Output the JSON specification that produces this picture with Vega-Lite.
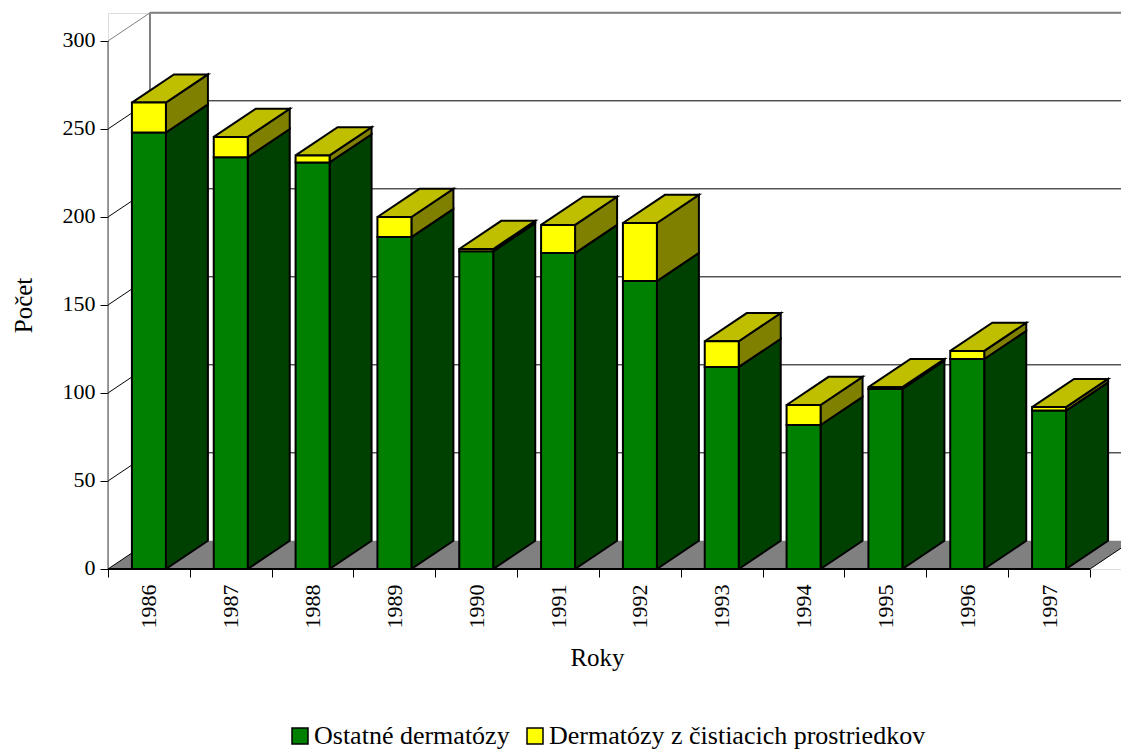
{
"$schema":"https://vega.github.io/schema/vega-lite/v6.json",
"width":1013,"height":556,"autosize":"none",
"padding":{"left":108,"top":13,"right":0,"bottom":180},
"background":"white",
"datasets":{
"bars":[
{"year":1986,"series":"Ostatné dermatózy","value":248},{"year":1986,"series":"Dermatózy z čistiacich prostriedkov","value":17},
{"year":1987,"series":"Ostatné dermatózy","value":234},{"year":1987,"series":"Dermatózy z čistiacich prostriedkov","value":11.5},
{"year":1988,"series":"Ostatné dermatózy","value":231},{"year":1988,"series":"Dermatózy z čistiacich prostriedkov","value":4},
{"year":1989,"series":"Ostatné dermatózy","value":188.6},{"year":1989,"series":"Dermatózy z čistiacich prostriedkov","value":11.4},
{"year":1990,"series":"Ostatné dermatózy","value":180.5},{"year":1990,"series":"Dermatózy z čistiacich prostriedkov","value":1.3},
{"year":1991,"series":"Ostatné dermatózy","value":179.5},{"year":1991,"series":"Dermatózy z čistiacich prostriedkov","value":16},
{"year":1992,"series":"Ostatné dermatózy","value":163.6},{"year":1992,"series":"Dermatózy z čistiacich prostriedkov","value":33},
{"year":1993,"series":"Ostatné dermatózy","value":114.8},{"year":1993,"series":"Dermatózy z čistiacich prostriedkov","value":14.6},
{"year":1994,"series":"Ostatné dermatózy","value":81.8},{"year":1994,"series":"Dermatózy z čistiacich prostriedkov","value":11.4},
{"year":1995,"series":"Ostatné dermatózy","value":102.3},{"year":1995,"series":"Dermatózy z čistiacich prostriedkov","value":1},
{"year":1996,"series":"Ostatné dermatózy","value":119.3},{"year":1996,"series":"Dermatózy z čistiacich prostriedkov","value":4.6},
{"year":1997,"series":"Ostatné dermatózy","value":90},{"year":1997,"series":"Dermatózy z čistiacich prostriedkov","value":2}
],
"ticks":[{"tick":0},{"tick":50},{"tick":100},{"tick":150},{"tick":200},{"tick":250},{"tick":300}]
},
"resolve":{"axis":{"x":"independent","y":"independent"}},
"layer":[
{"data":{"name":"ticks"},
 "transform":[{"filter":"datum.tick==0"},
  {"calculate":"[1985.5,1997.5,1998.013,1986.013,1985.5]","as":"vx"},
  {"calculate":"[0,0,16,16,0]","as":"vy"},
  {"calculate":"[0,1,2,3,4]","as":"vi"},
  {"flatten":["vx","vy","vi"]}],
 "mark":{"type":"line","fill":"#808080","stroke":"#808080","strokeWidth":0,"clip":true},
 "encoding":{
  "x":{"field":"vx","type":"quantitative","scale":{"domain":[1985.5,1997.879],"nice":false,"zero":false},
   "axis":{"orient":"bottom","values":[1986,1987,1988,1989,1990,1991,1992,1993,1994,1995,1996,1997],"format":"d","labelAngle":-90,"labelAlign":"right","labelBaseline":"middle","ticks":false,"domain":false,"grid":false,"labelPadding":15,"labelFont":"Liberation Serif","labelFontSize":22,"labelColor":"black","labelOverlap":false,"title":"Roky","titleFont":"Liberation Serif","titleFontSize":25,"titleFontWeight":"normal","titleColor":"black","titleX":489,"titleY":76}},
  "y":{"field":"vy","type":"quantitative","scale":{"domain":[0,315.9],"nice":false,"zero":false},
   "axis":{"orient":"left","values":[0,50,100,150,200,250,300],"domain":false,"grid":false,"tickSize":8,"tickColor":"black","tickWidth":1,"labelPadding":5,"labelOffset":-1.5,"labelFont":"Liberation Serif","labelFontSize":22,"labelColor":"black","title":"Počet","titleFont":"Liberation Serif","titleFontSize":25,"titleFontWeight":"normal","titleColor":"black","titleX":-72,"titleY":292}},
  "order":{"field":"vi","type":"quantitative"}}},
{"data":{"name":"ticks"},
 "transform":[{"calculate":"1985.5","as":"xa"},{"calculate":"1986.013","as":"xb"},{"calculate":"datum.tick+16","as":"back"}],
 "mark":{"type":"rule","strokeWidth":1},
 "encoding":{
  "x":{"field":"xa","type":"quantitative","scale":{"domain":[1985.5,1997.879],"nice":false,"zero":false},
   "axis":{"orient":"bottom","values":[1985.5,1986.5,1987.5,1988.5,1989.5,1990.5,1991.5,1992.5,1993.5,1994.5,1995.5,1996.5,1997.5],"labels":false,"domain":false,"grid":false,"tickSize":8,"tickColor":"black","tickWidth":1,"title":null}},
  "x2":{"field":"xb"},
  "y":{"field":"tick","type":"quantitative","scale":{"domain":[0,315.9],"nice":false,"zero":false},"axis":null},
  "y2":{"field":"back"},
  "stroke":{"condition":{"test":"datum.tick==300","value":"#808080"},"value":"black"},
  "strokeWidth":{"condition":{"test":"datum.tick==300","value":2},"value":1}}},
{"data":{"name":"ticks"},
 "transform":[{"filter":"datum.tick>0"},{"calculate":"1986.013","as":"xb"},{"calculate":"1997.879","as":"xe"},{"calculate":"datum.tick+16","as":"back"}],
 "mark":{"type":"rule"},
 "encoding":{
  "x":{"field":"xb","type":"quantitative","scale":{"domain":[1985.5,1997.879],"nice":false,"zero":false},"axis":null},
  "x2":{"field":"xe"},
  "y":{"field":"back","type":"quantitative","scale":{"domain":[0,315.9],"nice":false,"zero":false},"axis":null},
  "stroke":{"condition":{"test":"datum.tick==300","value":"#808080"},"value":"black"},
  "strokeWidth":{"condition":{"test":"datum.tick==300","value":2},"value":1}}},
{"data":{"name":"ticks"},
 "transform":[{"filter":"datum.tick==300"},{"calculate":"1986.013","as":"xb"},{"calculate":"16","as":"low"},{"calculate":"datum.tick+16","as":"back"}],
 "mark":{"type":"rule","stroke":"#808080","strokeWidth":2},
 "encoding":{
  "x":{"field":"xb","type":"quantitative","scale":{"domain":[1985.5,1997.879],"nice":false,"zero":false},"axis":null},
  "y":{"field":"low","type":"quantitative","scale":{"domain":[0,315.9],"nice":false,"zero":false},"axis":null},
  "y2":{"field":"back"}}},
{"data":{"name":"ticks"},
 "transform":[{"filter":"datum.tick==300"},{"calculate":"1985.5","as":"xa"},{"calculate":"0","as":"low"}],
 "mark":{"type":"rule","stroke":"#404040","strokeWidth":1},
 "encoding":{
  "x":{"field":"xa","type":"quantitative","scale":{"domain":[1985.5,1997.879],"nice":false,"zero":false},"axis":null},
  "y":{"field":"low","type":"quantitative","scale":{"domain":[0,315.9],"nice":false,"zero":false},"axis":null},
  "y2":{"field":"tick"}}},
{"data":{"name":"ticks"},
 "transform":[{"filter":"datum.tick==0"},{"calculate":"1997.5","as":"xa"},{"calculate":"1998.013","as":"xb"},{"calculate":"16","as":"back"}],
 "mark":{"type":"rule","stroke":"black","strokeWidth":1,"clip":true},
 "encoding":{
  "x":{"field":"xa","type":"quantitative","scale":{"domain":[1985.5,1997.879],"nice":false,"zero":false},"axis":null},
  "x2":{"field":"xb"},
  "y":{"field":"tick","type":"quantitative","scale":{"domain":[0,315.9],"nice":false,"zero":false},"axis":null},
  "y2":{"field":"back"}}},
{"data":{"name":"bars"},
 "transform":[{"stack":"value","groupby":["year"],"sort":[{"field":"series","order":"descending"}],"as":["y0","y1"]},
  {"filter":"datum.series=='Ostatné dermatózy'"},
  {"calculate":"datum.year+0.2077","as":"x1"},
  {"calculate":"[datum.x1,datum.x1,datum.x1+0.5133,datum.x1+0.5133,datum.x1]","as":"vx"},
  {"calculate":"[datum.y0,datum.y1,datum.y1+16,datum.y0+16,datum.y0]","as":"vy"},
  {"calculate":"[0,1,2,3,4]","as":"vi"},
  {"flatten":["vx","vy","vi"]}],
 "mark":{"type":"line","fill":"#004000","stroke":"black","strokeWidth":2},
 "encoding":{
  "x":{"field":"vx","type":"quantitative","scale":{"domain":[1985.5,1997.879],"nice":false,"zero":false},"axis":null},
  "y":{"field":"vy","type":"quantitative","scale":{"domain":[0,315.9],"nice":false,"zero":false},"axis":null},
  "detail":{"field":"year","type":"nominal"},
  "order":{"field":"vi","type":"quantitative"}}},
{"data":{"name":"bars"},
 "transform":[{"stack":"value","groupby":["year"],"sort":[{"field":"series","order":"descending"}],"as":["y0","y1"]},
  {"filter":"datum.series!='Ostatné dermatózy'"},
  {"calculate":"datum.year+0.2077","as":"x1"},
  {"calculate":"[datum.x1,datum.x1,datum.x1+0.5133,datum.x1+0.5133,datum.x1]","as":"vx"},
  {"calculate":"[datum.y0,datum.y1,datum.y1+16,datum.y0+16,datum.y0]","as":"vy"},
  {"calculate":"[0,1,2,3,4]","as":"vi"},
  {"flatten":["vx","vy","vi"]}],
 "mark":{"type":"line","fill":"#808000","stroke":"black","strokeWidth":2},
 "encoding":{
  "x":{"field":"vx","type":"quantitative","scale":{"domain":[1985.5,1997.879],"nice":false,"zero":false},"axis":null},
  "y":{"field":"vy","type":"quantitative","scale":{"domain":[0,315.9],"nice":false,"zero":false},"axis":null},
  "detail":{"field":"year","type":"nominal"},
  "order":{"field":"vi","type":"quantitative"}}},
{"data":{"name":"bars"},
 "transform":[{"stack":"value","groupby":["year"],"sort":[{"field":"series","order":"descending"}],"as":["y0","y1"]},
  {"filter":"datum.series!='Ostatné dermatózy'"},
  {"calculate":"datum.year-0.2077","as":"x0"},
  {"calculate":"datum.year+0.2077","as":"x1"},
  {"calculate":"[datum.x0,datum.x1,datum.x1+0.5133,datum.x0+0.5133,datum.x0]","as":"vx"},
  {"calculate":"[datum.y1,datum.y1,datum.y1+16,datum.y1+16,datum.y1]","as":"vy"},
  {"calculate":"[0,1,2,3,4]","as":"vi"},
  {"flatten":["vx","vy","vi"]}],
 "mark":{"type":"line","fill":"#BFBF00","stroke":"black","strokeWidth":2},
 "encoding":{
  "x":{"field":"vx","type":"quantitative","scale":{"domain":[1985.5,1997.879],"nice":false,"zero":false},"axis":null},
  "y":{"field":"vy","type":"quantitative","scale":{"domain":[0,315.9],"nice":false,"zero":false},"axis":null},
  "detail":{"field":"year","type":"nominal"},
  "order":{"field":"vi","type":"quantitative"}}},
{"data":{"name":"bars"},
 "transform":[{"stack":"value","groupby":["year"],"sort":[{"field":"series","order":"descending"}],"as":["y0","y1"]},
  {"calculate":"datum.year-0.2077","as":"x0"},
  {"calculate":"datum.year+0.2077","as":"x1"}],
 "mark":{"type":"rect","stroke":"black","strokeWidth":2},
 "encoding":{
  "x":{"field":"x0","type":"quantitative","scale":{"domain":[1985.5,1997.879],"nice":false,"zero":false},"axis":null},
  "x2":{"field":"x1"},
  "y":{"field":"y0","type":"quantitative","scale":{"domain":[0,315.9],"nice":false,"zero":false},"axis":null},
  "y2":{"field":"y1"},
  "fill":{"field":"series","type":"nominal","sort":null,
   "scale":{"domain":["Ostatné dermatózy","Dermatózy z čistiacich prostriedkov"],"range":["#008000","#FFFF00"]},
   "legend":{"title":null,"orient":"none","legendX":179,"legendY":710,"direction":"horizontal","symbolType":"square","symbolSize":256,"symbolStrokeColor":"black","symbolStrokeWidth":1.5,"labelFont":"Liberation Serif","labelFontSize":26,"labelColor":"black","labelLimit":500,"labelOffset":1,"columnPadding":12,"symbolOpacity":1}}}},
{"data":{"name":"ticks"},
 "transform":[{"filter":"datum.tick==0"},{"calculate":"1985.5","as":"xa"},{"calculate":"1997.5","as":"xz"}],
 "mark":{"type":"rule","stroke":"black","strokeWidth":2},
 "encoding":{
  "x":{"field":"xa","type":"quantitative","scale":{"domain":[1985.5,1997.879],"nice":false,"zero":false},"axis":null},
  "x2":{"field":"xz"},
  "y":{"field":"tick","type":"quantitative","scale":{"domain":[0,315.9],"nice":false,"zero":false},"axis":null}}}
]
}
